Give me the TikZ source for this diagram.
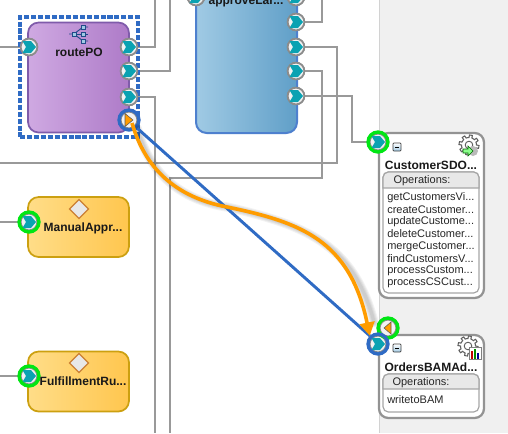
\documentclass[tikz,border=0pt]{standalone}
\usepackage{fontspec}
\setmainfont{Liberation Sans}
\usetikzlibrary{arrows.meta}
\definecolor{wire}{HTML}{999999}
\definecolor{sel}{HTML}{2F6BC4}
\definecolor{grn}{HTML}{00E614}
\definecolor{org}{HTML}{FF9C00}
\definecolor{tealc}{HTML}{0AA2B2}
\definecolor{panel}{HTML}{F0F0F0}
\definecolor{hdr}{HTML}{E8E8E8}
\definecolor{portf}{HTML}{F2F2F2}
\definecolor{purple1}{HTML}{CFA9E2}
\definecolor{purple2}{HTML}{AE7BC8}
\definecolor{purple3}{HTML}{7F5BAA}
\definecolor{blue1}{HTML}{A0CAE4}
\definecolor{blue2}{HTML}{609FC8}
\definecolor{blue3}{HTML}{4E80CE}
\definecolor{yel1}{HTML}{FFDD88}
\definecolor{yel2}{HTML}{FFC64E}
\definecolor{yel3}{HTML}{CCA010}
\tikzset{
  wireline/.style={draw=wire,line width=1.7pt},
  portc/.style={circle,draw=gray!90,line width=1.3pt,fill=portf,inner sep=0pt,minimum size=12.5pt},
  ringg/.style={circle,draw=grn,line width=2.5pt,inner sep=0pt,minimum size=15pt},
  ringb/.style={circle,draw=sel,line width=2.5pt,inner sep=0pt,minimum size=15pt},
  purplebox/.style={rectangle,rounded corners=8pt,left color=purple1,right color=purple2,draw=purple3,line width=1.3pt,inner sep=0pt},
  bluebox/.style={rectangle,rounded corners=8pt,left color=blue1,right color=blue2,draw=blue3,line width=1.5pt,inner sep=0pt},
  yelbox/.style={rectangle,rounded corners=8pt,left color=yel1,right color=yel2,draw=yel3,line width=1.3pt,inner sep=0pt,minimum width=75.75pt,minimum height=45pt},
  svcbox/.style={rectangle,rounded corners=7pt,fill=white,draw=gray!85,line width=1.7pt,inner sep=0pt,minimum width=78.75pt},
  opsbox/.style={rectangle,rounded corners=4pt,fill=white,draw=gray!70,line width=.9pt,inner sep=0pt,minimum width=72pt},
  boldlabel/.style={font=\bfseries\fontsize{9}{10}\selectfont,inner sep=0pt,text=black!90},
  oplabel/.style={font=\fontsize{8.25}{9}\selectfont,inner sep=0pt,anchor=west,text=black!85},
  minusbox/.style={rectangle,draw=gray!50!black,line width=.5pt,top color=white,bottom color=blue1,minimum size=6pt,inner sep=0pt,rounded corners=.6pt},
  selrect/.style={draw=sel,line width=2.3pt,dash pattern=on 3.8pt off 1.4pt},
}
\newcommand{\chev}[1]{\path[fill=tealc,shift={(#1)}] (-6.5,-6) -- (2,-6) -- (7,0) -- (2,6) -- (-6.5,6) -- (-3,0) -- cycle;}
\newcommand{\gearicon}[1]{\begin{scope}[shift={(#1)}]
  \draw[fill=white,draw=gray!75!black,line width=.8pt] plot[domain=0:360,samples=129] ({(7.5+2.5*(sin(8*\x)>0))*cos(\x)},{(7.5+2.5*(sin(8*\x)>0))*sin(\x)}) -- cycle;
  \draw[fill=white,draw=gray!75!black,line width=.7pt] (0,0) circle (3.8);
\end{scope}}
\newcommand{\diam}[1]{\path[fill=hdr,draw=brown!80!orange,line width=.9pt,shift={(#1)}] (0,-9.5) -- (9.5,0) -- (0,9.5) -- (-9.5,0) -- cycle;}
\begin{document}
\begin{tikzpicture}[x=0.75pt,y=-0.75pt]
\useasboundingbox (0,0) rectangle (508,433);
\clip (0,0) rectangle (508,433);
\fill[white] (0,0) rectangle (379,433);
\fill[panel] (379,0) rectangle (508,433);
\draw[gray!35,line width=.6pt] (379,0) -- (379,433);

% free ends
\coordinate (l1) at (0,47);
\coordinate (l2) at (0,222);
\coordinate (l3) at (0,376);
\coordinate (l4) at (0,163);
\coordinate (t1) at (155,0);
\coordinate (t2) at (170,0);
\coordinate (t3) at (322,0);
\coordinate (b1) at (155,433);
\coordinate (b2) at (170,433);

% boxes
\node[purplebox,minimum width=75.75pt,minimum height=82.5pt] (route) at (78.5,77.5) {};
\node[bluebox,minimum width=75.75pt,minimum height=144.75pt] (approve) at (246.5,36.5) {};
\node[yelbox] (manual) at (78.5,227) {};
\node[yelbox] (fulfil) at (78.5,381.5) {};
\node[svcbox,minimum height=123.75pt] (cust) at (431.5,215.5) {};
\node[svcbox,minimum height=62.25pt] (orders) at (431.5,376.5) {};

% ports
\node[portc] (rin) at (29,47) {};
\node[portc] (r1) at (129,47) {};
\node[portc] (r2) at (129,71) {};
\node[portc] (r3) at (129,97) {};
\node[portc] (rref) at (129,120) {};
\node[portc] (a0) at (196,-3) {};
\node[portc] (a00) at (296,-3) {};
\node[portc] (a1) at (296,22) {};
\node[portc] (a2) at (296,47) {};
\node[portc] (a3) at (296,71) {};
\node[portc] (a4) at (296,96) {};
\node[portc] (min) at (29,222) {};
\node[portc] (fin) at (29,376) {};
\node[portc] (cin) at (378,142) {};
\node[portc] (oin) at (378,344) {};
\node[portc] (oout) at (388,328) {};

% wires
\draw[wireline] (l1) -- (rin);
\draw[wireline] (r1) -| (t1);
\draw[wireline] (r2) -| (t2);
\draw[wireline] (r3) -| (b1);
\draw[wireline] (a1) -| (t3);
\draw[wireline] (a2) -| (337,163) -- (l4);
\draw[wireline] (a3) -| (322,178) -| (b2);
\draw[wireline] (a4) -| (352,142) -- (cin);
\draw[wireline] (l2) -- (min);
\draw[wireline] (l3) -- (fin);

% selection
\node[selrect,rectangle,inner sep=0pt,minimum width=88.5pt,minimum height=90pt] (selbox) at (79,77) {};

% repaint ports over wires
\foreach \p in {rin,r1,r2,r3,rref,a0,a00,a1,a2,a3,a4,min,fin,cin,oin,oout}{
  \node[portc] at (\p) {};
}
\foreach \p in {rin,r1,r2,r3,a0,a00,a1,a2,a3,a4,min,fin,cin,oin}{
  \chev{\p}
}
\node[ringg] (ring1) at (min) {};
\node[ringg] (ring2) at (fin) {};
\node[ringg] (ring3) at (cin) {};
\node[ringg] (ring4) at (oout) {};
\node[ringb] (ring5) at (oin) {};
\node[ringb] (ring6) at (rref) {};
\path[fill=org,draw=gray!70!black,line width=.4pt] (125,113.5) -- (133,120) -- (125,126.5) -- cycle;
\path[fill=org,draw=gray!70!black,line width=.4pt] (391,322) -- (384,328) -- (391,334) -- cycle;

% icons
\begin{scope}[sel!70!black,line width=.7pt]
  \draw (69,34) -- (74,34) -- (83,27) -- (88,27);
  \draw (74,34) -- (88,34);
  \draw (74,34) -- (83,41) -- (88,41);
  \path[draw,fill=blue1] (72,32) rectangle (76,36);
  \path[draw,fill=blue1] (81,25) rectangle (85,29);
  \path[draw,fill=blue1] (81,32) rectangle (85,36);
  \path[draw,fill=blue1] (81,39) rectangle (85,43);
\end{scope}
\diam{79,209}
\diam{79,363}
\gearicon{469,145}
\fill[gray!55] (473,151) circle (5);
\path[fill=green!45!white,draw=green!40!black,line width=.4pt] (463,149) -- (468,149) -- (468,146) -- (473,151) -- (468,156) -- (468,153) -- (463,153) -- cycle;
\gearicon{468,346}
\fill[white] (469,347) rectangle (481,359);
\draw[gray,line width=.4pt] (469,347) rectangle (481,359);
\fill[red!75!black] (470.5,351) rectangle (472.5,358.5);
\fill[green!55!black] (473.5,349) rectangle (475.5,358.5);
\fill[blue!60!black] (476.5,353) rectangle (478.5,358.5);
\node[minusbox] (mc) at (397,147) {};
\node[minusbox] (mo) at (397,348) {};
\draw[black,line width=.5pt] (395,147) -- (399,147);
\draw[black,line width=.5pt] (395,348) -- (399,348);

% labels
\node[boldlabel] (tr) at (79,52) {routePO};
\node[boldlabel] (ta) at (246,2) {approveLar...};
\node[boldlabel] (tm) at (83,228) {ManualAppr...};
\node[boldlabel] (tf) at (83,381) {FulfillmentRu...};
\node[boldlabel] (tc) at (431,165) {CustomerSDO...};
\node[boldlabel] (to) at (431,367) {OrdersBAMAd...};

% operations panels
\node[opsbox,minimum height=90.75pt] (copsb) at (431,232.5) {};
\path[fill=hdr,draw=gray!70,line width=.9pt] (383,188) [rounded corners=4pt] -- (383,172) -- (479,172) [sharp corners] -- (479,188) -- cycle;
\node[oplabel,anchor=center] (cops) at (422,181) {Operations:};
\node[opsbox,minimum height=28.5pt] (oopsb) at (431,393) {};
\path[fill=hdr,draw=gray!70,line width=.9pt] (383,389) [rounded corners=4pt] -- (383,374) -- (479,374) [sharp corners] -- (479,389) -- cycle;
\node[oplabel,anchor=center] (oops) at (421,383) {Operations:};
\node[oplabel] (c1) at (387,198) {getCustomersVi...};
\node[oplabel] (c2) at (387,210) {createCustomer...};
\node[oplabel] (c3) at (387,222) {updateCustome...};
\node[oplabel] (c4) at (387,234) {deleteCustomer...};
\node[oplabel] (c5) at (387,246.5) {mergeCustomer...};
\node[oplabel] (c6) at (387,258.5) {findCustomersV...};
\node[oplabel] (c7) at (387,270.5) {processCustom...};
\node[oplabel] (c8) at (387,283) {processCSCust...};
\node[oplabel] (o1) at (387,400) {writetoBAM};

% selected connector pair
\coordinate (curvemid) at (227,207);
\begin{scope}[xshift=2.4pt,yshift=-2pt,line cap=round]
  \foreach \w in {7,5.5,4,2.5}{
    \draw[black,opacity=.05,line width=\w pt] (ring6.south east) .. controls (145,168) and (175,197) .. (curvemid) .. controls (300,222) and (350,240) .. (371,320);
  }
\end{scope}
\draw[sel,line width=2.2pt] (ring6.south east) -- (ring5.north west);
\draw[org,line width=2.7pt,-{Triangle[length=10pt,width=11pt]}] (rref.center) ++(3,3) .. controls (145,168) and (175,197) .. (curvemid) .. controls (300,222) and (350,240) .. (ring5.north west);
\end{tikzpicture}
\end{document}
